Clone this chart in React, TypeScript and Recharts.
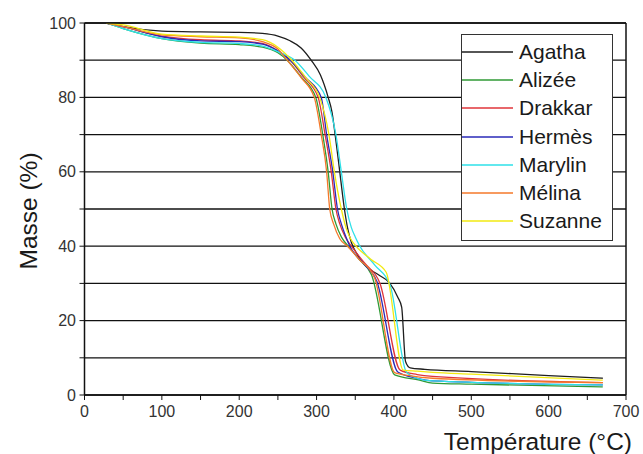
import { LineChart, Line, XAxis, YAxis, CartesianGrid, Label } from "recharts";

type Pt = [number, number];

// [température °C, masse %]
const agatha: Pt[] = [
  [28, 100], [50, 99], [100, 97.8], [150, 97.6], [200, 97.5], [230, 97.2], [250, 96.5], [265, 95.3],
  [280, 93.3], [293, 90], [305, 86], [315, 80], [320, 76], [324, 70], [330, 60], [336, 50], [340, 45],
  [345, 41], [352, 38], [362, 35], [380, 32.3], [394, 30.2], [405, 26.3], [410, 23.6], [415, 9],
  [421, 7.3], [440, 6.9], [500, 6.3], [600, 5.2], [670, 4.5],
];
const alizee: Pt[] = [
  [28, 100], [50, 98.5], [100, 95.8], [150, 94.6], [200, 94.2], [230, 93.5], [250, 92], [262, 90],
  [280, 85.5], [299, 80], [308, 70], [315, 60], [320, 50], [325, 46], [332, 42.5], [341, 40],
  [355, 36.5], [371, 32.3], [401, 5.4], [433, 4], [450, 3.2], [500, 2.9], [670, 2.2],
];
const drakkar: Pt[] = [
  [28, 100], [50, 99], [100, 96.5], [150, 95.5], [200, 95.2], [230, 94.5], [250, 92.5], [266, 90],
  [283, 85.5], [302, 80], [311, 70], [319, 60], [325, 50], [330, 46], [337, 42.5], [345, 40],
  [362, 35.5], [382, 30], [408, 6.7], [430, 5.5], [450, 5], [670, 3.3],
];
const hermes: Pt[] = [
  [28, 100], [50, 99], [100, 96.3], [150, 95.2], [200, 95], [230, 94.3], [250, 92.5], [266, 90],
  [285, 85.5], [306, 80], [313, 70], [321, 60], [327, 50], [332, 46], [338, 42.5], [343, 40],
  [360, 35.5], [378, 30.5], [405, 6.2], [430, 4.5], [450, 3.8], [670, 2.7],
];
const marylin: Pt[] = [
  [28, 100], [50, 98.5], [100, 95.8], [150, 94.8], [200, 94.5], [230, 93.8], [250, 92.3], [272, 90],
  [290, 85.8], [312, 80], [325, 70], [332, 60], [339, 50], [345, 45], [350, 42.5], [356, 40],
  [375, 35], [395, 29.6], [416, 6.2], [430, 4.5], [450, 3.8], [670, 2.7],
];
const melina: Pt[] = [
  [28, 100], [50, 99], [100, 96.8], [150, 96.3], [200, 96], [230, 95], [250, 93], [262, 90],
  [280, 85.3], [297, 80], [306, 70], [313, 60], [317, 50], [322, 46], [330, 42], [340, 40],
  [355, 36.5], [375, 31.5], [401, 6], [420, 5.2], [450, 4.5], [670, 3.3],
];
const suzanne: Pt[] = [
  [28, 100], [50, 99.5], [100, 97], [150, 96.5], [200, 96.2], [230, 95.5], [250, 93.5], [268, 90],
  [286, 85.3], [304, 80], [316, 70], [323, 60], [332, 50], [338, 45], [344, 42], [351, 40],
  [370, 36.5], [390, 33], [412, 6.7], [430, 6.4], [450, 6.1], [500, 5.6], [670, 4],
];

const names = ["Agatha", "Alizée", "Drakkar", "Hermès", "Marylin", "Mélina", "Suzanne"];
const curves = [agatha, alizee, drakkar, hermes, marylin, melina, suzanne];
const colors = ["#1e1e1e", "#2f9a35", "#e0343a", "#2a2ab8", "#2ee0e8", "#f5782a", "#f2ea10"];

const xTicks = [0, 50, 100, 150, 200, 250, 300, 350, 400, 450, 500, 550, 600, 650, 700];
const yTicks = [0, 10, 20, 30, 40, 50, 60, 70, 80, 90, 100];

const FONT = "'Liberation Sans', Arial, sans-serif";

function LegendBox() {
  return (
    <div
      style={{
        position: "absolute",
        left: 461,
        top: 34,
        width: 152,
        height: 207,
        border: "1.5px solid #333",
        boxSizing: "border-box",
        background: "#fff",
        fontFamily: FONT,
        fontSize: 21,
        color: "#1a1a1a",
      }}
    >
      {names.map((n, i) => (
        <div
          key={n}
          style={{ position: "absolute", left: 0, top: 17 + i * 28.2 - 13, height: 26, display: "flex", alignItems: "center" }}
        >
          <svg width={51} height={4}>
            <line x1={0} x2={51} y1={2} y2={2} stroke={colors[i]} strokeWidth={1.4} />
          </svg>
          <span style={{ marginLeft: 6, lineHeight: "26px" }}>{n}</span>
        </div>
      ))}
    </div>
  );
}

export default function App() {
  const tickStyle = { fontSize: 16, fill: "#333", fontFamily: FONT };
  return (
    <div style={{ position: "absolute", left: 0, top: 0, width: 643, height: 454, background: "#fff" }}>
      <LineChart width={643} height={454} margin={{ top: 22, right: 16, bottom: 0, left: 0 }}>
        <CartesianGrid xAxisId="b" yAxisId="l" vertical={false} stroke="#111" strokeWidth={1.3} />
        <XAxis
          xAxisId="b"
          type="number"
          dataKey="t"
          domain={[0, 700]}
          ticks={xTicks}
          allowDataOverflow
          height={59}
          tickSize={5}
          tickMargin={6}
          tick={tickStyle}
          tickFormatter={(v: number) => (v % 100 === 0 ? String(v) : "")}
          axisLine={{ stroke: "#111", strokeWidth: 1.5 }}
          tickLine={{ stroke: "#111" }}
        >
          <Label
            content={() => (
              <text x={632} y={450} textAnchor="end" fontSize={24.5} fill="#1a1a1a" fontFamily={FONT}>
                Température (°C)
              </text>
            )}
          />
        </XAxis>
        <XAxis
          xAxisId="t"
          orientation="top"
          type="number"
          domain={[0, 700]}
          ticks={xTicks}
          height={1}
          tickSize={-5}
          tick={() => <g />}
          axisLine={{ stroke: "#111", strokeWidth: 1.5 }}
          tickLine={{ stroke: "#111" }}
        />
        <YAxis
          yAxisId="l"
          type="number"
          domain={[0, 100]}
          ticks={yTicks}
          allowDataOverflow
          width={84.5}
          tickSize={5}
          tickMargin={3.5}
          tick={tickStyle}
          tickFormatter={(v: number) => (v % 20 === 0 ? String(v) : "")}
          axisLine={{ stroke: "#111", strokeWidth: 1.5 }}
          tickLine={{ stroke: "#111" }}
        >
          <Label
            content={() => (
              <text
                x={28}
                y={211}
                transform="rotate(-90 28 211)"
                textAnchor="middle"
                dominantBaseline="central"
                fontSize={24.5}
                fill="#1a1a1a"
                fontFamily={FONT}
              >
                Masse (%)
              </text>
            )}
          />
        </YAxis>
        <YAxis
          yAxisId="r"
          orientation="right"
          type="number"
          domain={[0, 100]}
          width={1}
          tick={false}
          tickLine={false}
          axisLine={{ stroke: "#111", strokeWidth: 1.5 }}
        />
        {curves.map((pts, i) => (
          <Line
            key={names[i]}
            xAxisId="b"
            yAxisId="l"
            name={names[i]}
            data={pts.map(([t, m]) => ({ t, m }))}
            dataKey="m"
            type="monotone"
            stroke={colors[i]}
            strokeWidth={1.3}
            dot={false}
            activeDot={false}
            isAnimationActive={false}
          />
        ))}
      </LineChart>
      <LegendBox />
    </div>
  );
}
